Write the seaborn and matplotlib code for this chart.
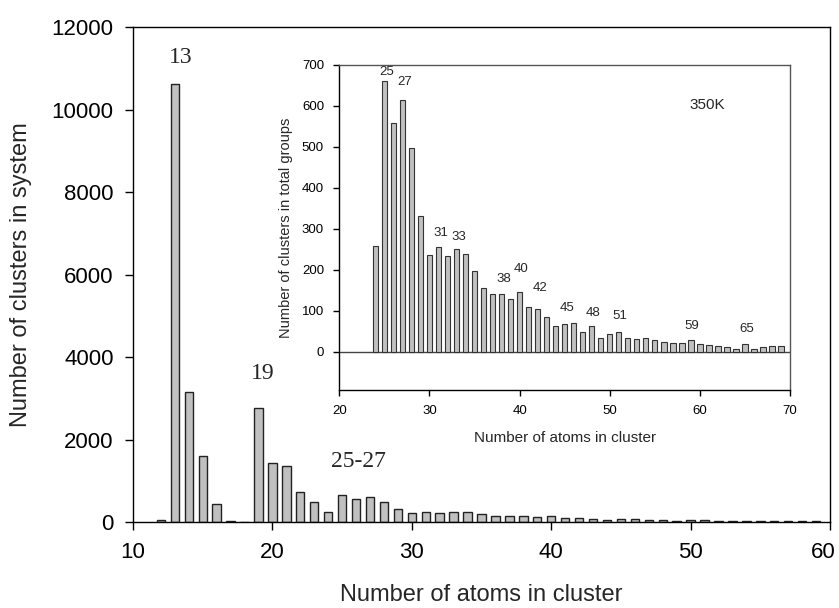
import matplotlib
matplotlib.use("Agg")
import matplotlib.pyplot as plt
import matplotlib.transforms as mtransforms
import seaborn as sns
import pandas as pd

# ---------------- data ----------------
main_sizes = list(range(12, 60))
main_counts = [65, 10620, 3160, 1615, 437, 40, 0, 2765, 1432, 1375, 728, 487,
               259, 662, 558, 614, 498, 332, 236, 256, 234, 251, 239, 197,
               155, 140, 142, 129, 145, 110, 105, 86, 62, 69, 71, 48,
               63, 34, 43, 49, 35, 32, 33, 28, 24, 22, 22, 28]

inset_sizes = list(range(24, 70))
inset_counts = [259, 662, 558, 614, 498, 332, 236, 256, 234, 251, 239, 197,
                155, 140, 142, 129, 145, 110, 105, 86, 62, 69, 71, 48,
                63, 34, 43, 49, 35, 32, 33, 28, 24, 22, 22, 28,
                20, 16, 15, 13, 8, 20, 8, 11, 14, 15]

main_xticks = [10, 20, 30, 40, 50, 60]
main_yticks = [0, 2000, 4000, 6000, 8000, 10000, 12000]
inset_xticks = [20, 30, 40, 50, 60, 70]
inset_yticks = [0, 100, 200, 300, 400, 500, 600, 700]

main_peaks = ["13", "19", "25-27"]
main_peak_x = [13.45, 19.3, 26.2]
main_peak_y = [11250, 3600, 1470]

inset_peaks = ["25", "27", "31", "33", "38", "40", "42", "45", "48", "51", "59", "65"]
inset_peak_x = [25.25, 27.2, 31.3, 33.25, 38.2, 40.15, 42.3, 45.3, 48.1, 51.15, 59.15, 65.2]
inset_peak_y = [683, 658, 291, 281, 178, 201, 155, 107, 94, 88, 63, 56]

# ---------------- style ----------------
sns.set_theme(style="ticks")
plt.rcParams['font.family'] = ['Liberation Sans', 'DejaVu Sans']
plt.rcParams['axes.linewidth'] = 1.0

BAR = "#c0c0c0"
EDGE = "#222222"

fig = plt.figure(figsize=(8.39, 6.08), dpi=100)
fig.patch.set_facecolor("white")

# main axes
ax = fig.add_axes([0.1585, 0.1410, 0.8308, 0.8146])
df_main = pd.DataFrame({"size": main_sizes, "count": main_counts})
sns.barplot(data=df_main, x="size", y="count", native_scale=True, width=0.6,
            color=BAR, edgecolor=EDGE, linewidth=1.0, saturation=1, ax=ax)
ax.set_xlim(10, 60)
ax.set_ylim(0, 12000)
ax.set_xticks(main_xticks)
ax.set_yticks(main_yticks)
ax.tick_params(direction="out", length=6, width=1, labelsize=16, pad=8, colors="black")
for s in ax.spines.values():
    s.set_visible(True)
    s.set_color("black")
    s.set_linewidth(1.0)
ax.set_xlabel("Number of atoms in cluster", fontsize=17, labelpad=15)
ax.set_ylabel("Number of clusters in system", fontsize=17, labelpad=14)
for t, x, y in zip(main_peaks, main_peak_x, main_peak_y):
    ax.text(x, y, t, ha="center", va="center", fontsize=17,
            family=["Liberation Serif", "DejaVu Serif"])
# keep the last tick label inside the figure edge
fig.canvas.draw()
last = ax.get_xticklabels()[-1]
last.set_transform(last.get_transform() +
                   mtransforms.ScaledTranslation(-7 / 100, 0, fig.dpi_scale_trans))

# inset axes
ia = fig.add_axes([0.4044, 0.3586, 0.5372, 0.5345])
ia.set_facecolor("white")
df_in = pd.DataFrame({"size": inset_sizes, "count": inset_counts})
sns.barplot(data=df_in, x="size", y="count", native_scale=True, width=0.6,
            color=BAR, edgecolor="#333333", linewidth=0.8, saturation=1, ax=ia)
ia.axhline(0, color="#444444", lw=1.0, zorder=0.5)
ia.set_xlim(20, 70)
ia.set_ylim(-93, 700)
ia.set_xticks(inset_xticks)
ia.set_yticks(inset_yticks)
ia.tick_params(direction="out", length=4, width=1, labelsize=9.5, pad=7, colors="black")
for k in ["left", "bottom"]:
    ia.spines[k].set_color("black")
    ia.spines[k].set_linewidth(1.0)
for k in ["top", "right"]:
    ia.spines[k].set_visible(True)
    ia.spines[k].set_color("#555555")
    ia.spines[k].set_linewidth(1.0)
ia.set_xlabel("Number of atoms in cluster", fontsize=11, labelpad=10)
ia.set_ylabel("Number of clusters in total groups", fontsize=10.5, labelpad=6)
for t, x, y in zip(inset_peaks, inset_peak_x, inset_peak_y):
    ia.text(x, y, t, ha="center", va="center", fontsize=9.5)
ia.text(60.8, 602, "350K", ha="center", va="center", fontsize=11)

fig.savefig("out.png", dpi=100, facecolor="white")
